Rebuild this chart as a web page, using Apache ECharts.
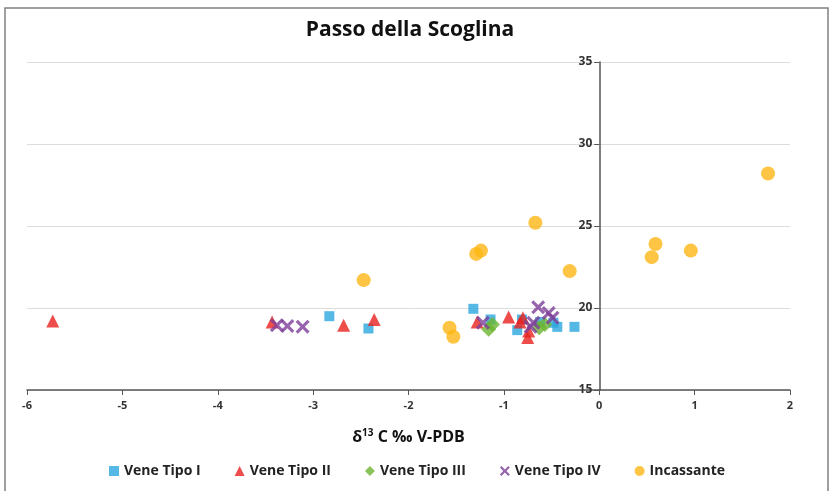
<!DOCTYPE html>
<html><head><meta charset="utf-8">
<script src="https://cdn.jsdelivr.net/npm/echarts@6/dist/echarts.min.js"></script>
<style>html,body{margin:0;padding:0;background:#fff}#c{width:834px;height:491px}</style>
</head><body><div id="c"></div>
<script>
const seriesNames = ["Vene Tipo I", "Vene Tipo II", "Vene Tipo III", "Vene Tipo IV", "Incassante"];
const tipo1 = [[-2.83,19.5],[-2.42,18.75],[-1.32,19.95],[-1.14,19.3],[-0.86,18.65],[-0.81,19.3],[-0.62,19.15],[-0.48,19.1],[-0.44,18.85],[-0.26,18.85]];
const tipo2 = [[-5.73,19.2],[-3.43,19.15],[-2.68,18.95],[-2.36,19.3],[-1.28,19.15],[-0.95,19.45],[-0.83,19.15],[-0.8,19.4],[-0.75,18.2],[-0.74,18.6]];
const tipo3 = [[-1.16,18.7],[-1.12,19.0],[-0.57,19.0],[-0.63,18.8]];
const tipo4 = [[-3.38,18.95],[-3.27,18.9],[-3.11,18.85],[-1.22,19.1],[-0.64,20.05],[-0.53,19.7],[-0.49,19.4],[-0.69,19.1],[-0.72,18.85]];
const incassante = [[-2.47,21.7],[-1.57,18.8],[-1.53,18.25],[-1.29,23.3],[-1.24,23.5],[-0.67,25.2],[-0.31,22.25],[0.55,23.1],[0.59,23.9],[0.96,23.5],[1.77,28.2]];
const xTicks = [-6,-5,-4,-3,-2,-1,0,1,2];
const yTicks = [15,20,25,30,35];

const xShape = 'path://M0,1.6 L1.6,0 L5,3.4 L8.4,0 L10,1.6 L6.6,5 L10,8.4 L8.4,10 L5,6.6 L1.6,10 L0,8.4 L3.4,5 Z';
const chart = echarts.init(document.getElementById('c'));
const font = '"Open Sans", "Liberation Sans", sans-serif';
const gridLeft = 27, gridRight = 44;
const plotW = 834 - gridLeft - gridRight;
const zeroOffset = -plotW * (0 - xTicks[0]) / (xTicks[xTicks.length-1] - xTicks[0]);
chart.setOption({
  backgroundColor: '#fff',
  textStyle: {fontFamily: font},
  title: {
    text: 'Passo della Scoglina', left: 405, top: 15, textAlign: 'center',
    textStyle: {fontSize: 21, fontWeight: 'bold', color: '#111', fontFamily: font}
  },
  graphic: [{type: 'rect', shape: {x: 5, y: 8, width: 823, height: 500}, style: {fill: 'none', stroke: '#808080', lineWidth: 1.5}, silent: true}],
  grid: {left: gridLeft, right: gridRight, top: 62, bottom: 101},
  legend: {
    bottom: 8, left: 'center', itemGap: 34, itemWidth: 10, itemHeight: 10,
    textStyle: {fontSize: 14, fontWeight: 'bold', color: '#222', fontFamily: font},
    data: seriesNames
  },
  xAxis: {
    type: 'value', min: xTicks[0], max: xTicks[xTicks.length-1], interval: 1,
    name: '{d|δ}{s|13}{d| C ‰ V-PDB}', nameLocation: 'middle', nameGap: 38,
    nameTextStyle: {rich: {d: {fontSize: 16, fontWeight: 'bold', color: '#111', fontFamily: font}, s: {fontSize: 10, fontWeight: 'bold', color: '#111', verticalAlign: 'top', padding: [0,0,8,0], fontFamily: font}}},
    axisLine: {onZero: false, lineStyle: {color: '#555', width: 1.5}},
    axisTick: {inside: false, length: 5, lineStyle: {color: '#555'}},
    axisLabel: {color: '#333', fontSize: 11, fontWeight: 'bold', margin: 10},
    splitLine: {show: false}
  },
  yAxis: {
    type: 'value', min: yTicks[0], max: yTicks[yTicks.length-1], interval: 5,
    offset: zeroOffset,
    axisLine: {onZero: false, lineStyle: {color: '#555', width: 1.5}},
    axisTick: {length: 5, lineStyle: {color: '#555'}},
    axisLabel: {color: '#333', fontSize: 12, fontWeight: 'bold', margin: 7},
    splitLine: {lineStyle: {color: '#dcdcdc'}}
  },
  series: [
    {name: seriesNames[0], type: 'scatter', symbol: 'rect', symbolSize: 10, itemStyle: {color: '#2aa6df'}, data: tipo1},
    {name: seriesNames[1], type: 'scatter', symbol: 'triangle', symbolSize: 13, itemStyle: {color: '#e8221e'}, data: tipo2},
    {name: seriesNames[2], type: 'scatter', symbol: 'diamond', symbolSize: 15, itemStyle: {color: '#6cb42f'}, data: tipo3},
    {name: seriesNames[3], type: 'scatter', symbol: xShape, symbolSize: 14, itemStyle: {color: '#7d3f98'}, data: tipo4},
    {name: seriesNames[4], type: 'scatter', symbol: 'circle', symbolSize: 14, itemStyle: {color: '#fdb714'}, data: incassante}
  ]
});
</script></body></html>
